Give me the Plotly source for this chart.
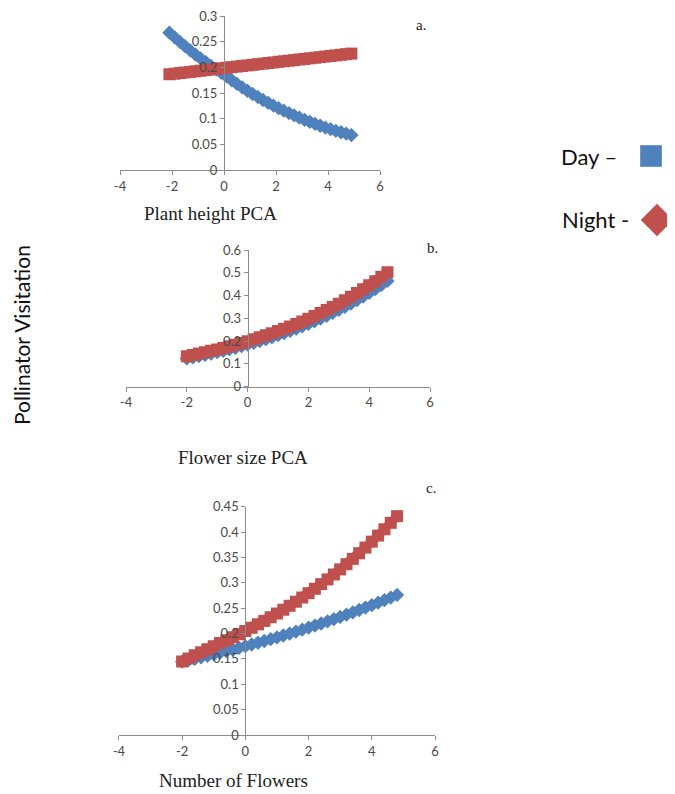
import plotly.graph_objects as go

# ---------------- data ----------------
# Panel a: Plant height PCA
x_a = [-2.1, -1.9, -1.7, -1.5, -1.3, -1.1, -0.9, -0.7, -0.5, -0.3, -0.1, 0.1,
       0.3, 0.5, 0.7, 0.9, 1.1, 1.3, 1.5, 1.7, 1.9, 2.1, 2.3, 2.5, 2.7, 2.9,
       3.1, 3.3, 3.5, 3.7, 3.9, 4.1, 4.3, 4.5, 4.7, 4.9]
day_a = [0.2676, 0.2585, 0.2497, 0.2412, 0.2330, 0.2250, 0.2174, 0.2100, 0.2028,
         0.1959, 0.1892, 0.1822, 0.1748, 0.1677, 0.1609, 0.1544, 0.1481, 0.1422,
         0.1364, 0.1309, 0.1256, 0.1205, 0.1155, 0.1108, 0.1063, 0.1019, 0.0977,
         0.0938, 0.0899, 0.0862, 0.0827, 0.0795, 0.0764, 0.0735, 0.0707, 0.0680]
night_a = [0.1865, 0.1877, 0.1888, 0.1900, 0.1911, 0.1923, 0.1934, 0.1946, 0.1957,
           0.1969, 0.1980, 0.1992, 0.2003, 0.2015, 0.2026, 0.2038, 0.2049, 0.2061,
           0.2072, 0.2084, 0.2095, 0.2107, 0.2118, 0.2130, 0.2141, 0.2153, 0.2164,
           0.2176, 0.2187, 0.2199, 0.2210, 0.2222, 0.2233, 0.2245, 0.2256, 0.2268]

# Panel b: Flower size PCA
x_b = [-2.0, -1.8, -1.6, -1.4, -1.2, -1.0, -0.8, -0.6, -0.4, -0.2, 0.0, 0.2,
       0.4, 0.6, 0.8, 1.0, 1.2, 1.4, 1.6, 1.8, 2.0, 2.2, 2.4, 2.6, 2.8, 3.0,
       3.2, 3.4, 3.6, 3.8, 4.0, 4.2, 4.4, 4.6]
day_b = [0.1240, 0.1290, 0.1343, 0.1399, 0.1455, 0.1514, 0.1576, 0.1641, 0.1708,
         0.1778, 0.1850, 0.1926, 0.2004, 0.2086, 0.2171, 0.2260, 0.2351, 0.2448,
         0.2547, 0.2652, 0.2760, 0.2872, 0.2990, 0.3112, 0.3238, 0.3371, 0.3509,
         0.3652, 0.3801, 0.3956, 0.4117, 0.4286, 0.4460, 0.4643]
night_b = [0.1341, 0.1395, 0.1452, 0.1512, 0.1573, 0.1637, 0.1704, 0.1774, 0.1846,
           0.1922, 0.2000, 0.2082, 0.2167, 0.2255, 0.2347, 0.2443, 0.2542, 0.2646,
           0.2754, 0.2867, 0.2984, 0.3105, 0.3232, 0.3364, 0.3501, 0.3644, 0.3793,
           0.3948, 0.4109, 0.4277, 0.4451, 0.4633, 0.4822, 0.5019]

# Panel c: Number of Flowers
x_c = [-2.0, -1.8, -1.6, -1.4, -1.2, -1.0, -0.8, -0.6, -0.4, -0.2, 0.0, 0.2,
       0.4, 0.6, 0.8, 1.0, 1.2, 1.4, 1.6, 1.8, 2.0, 2.2, 2.4, 2.6, 2.8, 3.0,
       3.2, 3.4, 3.6, 3.8, 4.0, 4.2, 4.4, 4.6, 4.8]
day_c = [0.1447, 0.1475, 0.1503, 0.1532, 0.1562, 0.1591, 0.1622, 0.1653, 0.1685,
         0.1717, 0.1750, 0.1784, 0.1818, 0.1853, 0.1888, 0.1924, 0.1961, 0.1999,
         0.2037, 0.2076, 0.2116, 0.2157, 0.2198, 0.2240, 0.2283, 0.2327, 0.2372,
         0.2417, 0.2464, 0.2511, 0.2559, 0.2608, 0.2658, 0.2709, 0.2761]
night_c = [0.1450, 0.1510, 0.1570, 0.1630, 0.1690, 0.1750, 0.1811, 0.1868, 0.1927,
           0.1987, 0.2050, 0.2115, 0.2181, 0.2250, 0.2321, 0.2394, 0.2469, 0.2547,
           0.2627, 0.2710, 0.2795, 0.2883, 0.2974, 0.3067, 0.3164, 0.3264, 0.3366,
           0.3472, 0.3582, 0.3694, 0.3811, 0.3931, 0.4055, 0.4182, 0.4314]

x_ticks = [-4, -2, 0, 2, 4, 6]
x_ticktext = ["-4", "-2", "0", "2", "4", "6"]
y_ticks_a = [0, 0.05, 0.1, 0.15, 0.2, 0.25, 0.3]
y_ticktext_a = ["0", "0.05", "0.1", "0.15", "0.2", "0.25", "0.3"]
y_ticks_b = [0, 0.1, 0.2, 0.3, 0.4, 0.5, 0.6]
y_ticktext_b = ["0", "0.1", "0.2", "0.3", "0.4", "0.5", "0.6"]
y_ticks_c = [0, 0.05, 0.1, 0.15, 0.2, 0.25, 0.3, 0.35, 0.4, 0.45]
y_ticktext_c = ["0", "0.05", "0.1", "0.15", "0.2", "0.25", "0.3", "0.35", "0.4", "0.45"]

axis_titles = ["Plant height PCA", "Flower size PCA", "Number of Flowers"]
panel_labels = ["a.", "b.", "c."]
series_names = ["Day", "Night"]

# ---------------- styling ----------------
W, H = 675, 794          # browser window
OFF = 8                  # default body margin of the html page
FW, FH = W - OFF, H - OFF  # figure size so it fits the window
BLUE = "#4F81BD"
RED = "#C0504D"
AXIS = "#8c8c8c"
SANS = "Lato, Open Sans, sans-serif"
TICKFONT = dict(family=SANS, size=13, color="#4a4a4a")
SERIF = "Liberation Serif, Times New Roman, serif"


def px(x):
    return (x - OFF) / FW


def py(y):
    return 1 - (y - OFF) / FH


fig = go.Figure()

panels = [
    # (x, day, night, xdomain px, ydomain px, y range, yticks, yticktext, y-axis x px)
    (x_a, day_a, night_a, (120, 380), (170, 16), [0, 0.3], y_ticks_a, y_ticktext_a, 224),
    (x_b, day_b, night_b, (126, 430), (386.7, 250), [0, 0.6], y_ticks_b, y_ticktext_b, 247.7),
    (x_c, day_c, night_c, (118.9, 435), (735, 506.7), [0, 0.45], y_ticks_c, y_ticktext_c, 245.3),
]

for i, (xs, d, n, xd, yd, yr, yt, ytt, yaxpx) in enumerate(panels):
    k = "" if i == 0 else str(i + 1)
    xa = "x" + k
    ya = "y" + k
    fig.add_trace(go.Scatter(
        x=xs, y=d, mode="lines+markers", name=series_names[0], xaxis=xa, yaxis=ya,
        line=dict(color=BLUE, width=7),
        marker=dict(symbol="diamond", size=11, color=BLUE, line=dict(width=0)),
        showlegend=False))
    fig.add_trace(go.Scatter(
        x=xs, y=n, mode="lines+markers", name=series_names[1], xaxis=xa, yaxis=ya,
        line=dict(color=RED, width=9),
        marker=dict(symbol="square", size=12, color=RED, line=dict(width=0)),
        showlegend=False))
    fig.update_layout(**{
        "xaxis" + k: dict(
            domain=[px(xd[0]), px(xd[1])], range=[-4, 6], anchor=ya,
            tickvals=x_ticks, ticktext=x_ticktext, showgrid=False, zeroline=False,
            showline=True, linecolor=AXIS, linewidth=1, ticks="outside", ticklen=4,
            tickcolor=AXIS, tickfont=TICKFONT, automargin=False,
            ticklabeloverflow="allow"),
        "yaxis" + k: dict(
            domain=[py(yd[0]), py(yd[1])], range=yr, anchor="free",
            position=px(yaxpx), tickvals=yt, ticktext=ytt, showgrid=False,
            zeroline=False, showline=True, linecolor=AXIS, linewidth=1,
            ticks="outside", ticklen=4, tickcolor=AXIS, tickfont=TICKFONT,
            automargin=False, ticklabeloverflow="allow"),
    })

annotations = []
# axis titles
for (t, (cx, cy)) in zip(axis_titles, [(210, 214), (243, 457), (234, 780)]):
    annotations.append(dict(text=t, x=px(cx), y=py(cy), xref="paper", yref="paper",
                            showarrow=False, xanchor="center", yanchor="middle",
                            font=dict(family=SERIF, size=19, color="#222222")))
# panel labels
for (t, (cx, cy)) in zip(panel_labels, [(421, 25), (433, 248), (431, 488)]):
    annotations.append(dict(text=t, x=px(cx), y=py(cy), xref="paper", yref="paper",
                            showarrow=False, xanchor="center", yanchor="middle",
                            font=dict(family=SERIF, size=15, color="#222222")))
# shared y title
annotations.append(dict(text="Pollinator Visitation", x=px(21), y=py(335),
                        xref="paper", yref="paper", showarrow=False, textangle=-90,
                        xanchor="center", yanchor="middle",
                        font=dict(family=SANS, size=21, color="#111111")))
# legend text
annotations.append(dict(text="Day \u2013", x=px(559), y=py(156), xref="paper",
                        yref="paper", showarrow=False, xanchor="left", yanchor="middle",
                        font=dict(family=SANS, size=22, color="#111111")))
annotations.append(dict(text="Night -", x=px(560), y=py(219), xref="paper",
                        yref="paper", showarrow=False, xanchor="left", yanchor="middle",
                        font=dict(family=SANS, size=22, color="#111111")))

# legend symbols (drawn on a hidden full-page axis pair)
fig.add_trace(go.Scatter(x=[px(651)], y=[py(156)], xaxis="x4", yaxis="y4",
                         mode="markers", showlegend=False, hoverinfo="skip",
                         marker=dict(symbol="square", size=21, color=BLUE,
                                     line=dict(width=1, color="#6f95c9"))))
fig.add_trace(go.Scatter(x=[px(657)], y=[py(220)], xaxis="x4", yaxis="y4",
                         mode="markers", showlegend=False, hoverinfo="skip",
                         marker=dict(symbol="diamond", size=25, color=RED,
                                     line=dict(width=0))))
fig.update_layout(
    xaxis4=dict(domain=[0, 1], range=[0, 1], visible=False, anchor="y4",
                automargin=False),
    yaxis4=dict(domain=[0, 1], range=[0, 1], visible=False, anchor="x4",
                automargin=False),
)

fig.update_layout(
    width=FW, height=FH,
    margin=dict(l=0, r=0, t=0, b=0, pad=0, autoexpand=False),
    paper_bgcolor="white", plot_bgcolor="rgba(0,0,0,0)",
    annotations=annotations, showlegend=False,
)

fig.write_html("out.html")
